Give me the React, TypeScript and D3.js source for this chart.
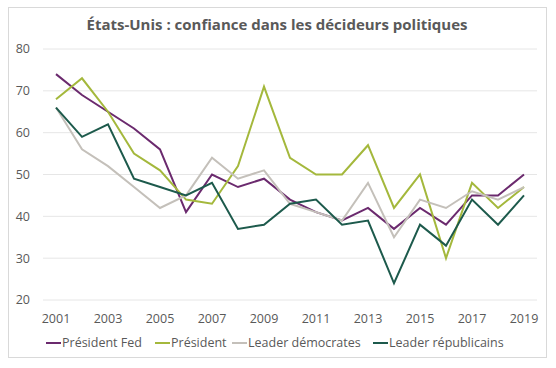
import React from "react";
import * as d3 from "d3";

const years = [2001, 2002, 2003, 2004, 2005, 2006, 2007, 2008, 2009, 2010, 2011, 2012, 2013, 2014, 2015, 2016, 2017, 2018, 2019];
const presidentFed = [74, 69, 65, 61, 56, 41, 50, 47, 49, 44, 41, 39, 42, 37, 42, 38, 45, 45, 50];
const president = [68, 73, 65, 55, 51, 44, 43, 52, 71, 54, 50, 50, 57, 42, 50, 30, 48, 42, 47];
const leaderDemocrates = [66, 56, 52, 47, 42, 45, 54, 49, 51, 43, 41, 39, 48, 35, 44, 42, 46, 44, 47];
const leaderRepublicains = [66, 59, 62, 49, 47, 45, 48, 37, 38, 43, 44, 38, 39, 24, 38, 33, 44, 38, 45];
const yTicks = [20, 30, 40, 50, 60, 70, 80];
const xTickYears = [2001, 2003, 2005, 2007, 2009, 2011, 2013, 2015, 2017, 2019];
const seriesNames = ["Président Fed", "Président", "Leader démocrates", "Leader républicains"];
const seriesColors = ["#6b2a6e", "#a4b83c", "#c4c0ba", "#1d5a4c"];
const title = "États-Unis : confiance dans les décideurs politiques";

const W = 556;
const H = 368;
const plotLeft = 43;
const plotRight = 537;
const plotTop = 49;
const plotBottom = 300;
const legendX = [46, 155, 232, 373];

export default function App() {
  const seriesData = [presidentFed, president, leaderDemocrates, leaderRepublicains];
  const x = d3.scaleBand<number>().domain(years).range([plotLeft, plotRight]);
  const cx = (yr: number) => (x(yr) as number) + x.bandwidth() / 2;
  const y = d3.scaleLinear().domain([20, 80]).range([plotBottom, plotTop]);
  const line = d3
    .line<number>()
    .x((_, i) => cx(years[i]))
    .y((v) => y(v));
  const font = "'Open Sans', 'Liberation Sans', sans-serif";
  const textColor = "#595959";

  return (
    <svg width={W} height={H} style={{ position: "absolute", left: 0, top: 0 }} fontFamily={font}>
      <rect x={0} y={0} width={W} height={H} fill="#fff" />
      <rect x={8.5} y={7.5} width={538} height={350} fill="#fff" stroke="#d9d9d9" strokeWidth={1} />
      <text x={277} y={30} textAnchor="middle" fontSize={15} fontWeight="bold" fill={textColor}>
        {title}
      </text>
      {yTicks.map((t) => (
        <g key={t}>
          <line x1={plotLeft} x2={plotRight} y1={y(t)} y2={y(t)} stroke="#e6e6e6" strokeWidth={1} />
          <text x={30} y={y(t)} dy="0.35em" textAnchor="end" fontSize={12.5} fill={textColor}>
            {t}
          </text>
        </g>
      ))}
      {xTickYears.map((yr) => (
        <text key={yr} x={cx(yr)} y={323} textAnchor="middle" fontSize={12.5} fill={textColor}>
          {yr}
        </text>
      ))}
      {seriesData.map((s, i) => (
        <path key={seriesNames[i]} d={line(s) as string} fill="none" stroke={seriesColors[i]} strokeWidth={2} strokeLinejoin="miter" />
      ))}
      {seriesNames.map((n, i) => (
        <g key={n}>
          <line x1={legendX[i]} x2={legendX[i] + 15} y1={343} y2={343} stroke={seriesColors[i]} strokeWidth={2} />
          <text x={legendX[i] + 16} y={343} dy="0.35em" fontSize={12.5} fill={textColor}>
            {n}
          </text>
        </g>
      ))}
    </svg>
  );
}
